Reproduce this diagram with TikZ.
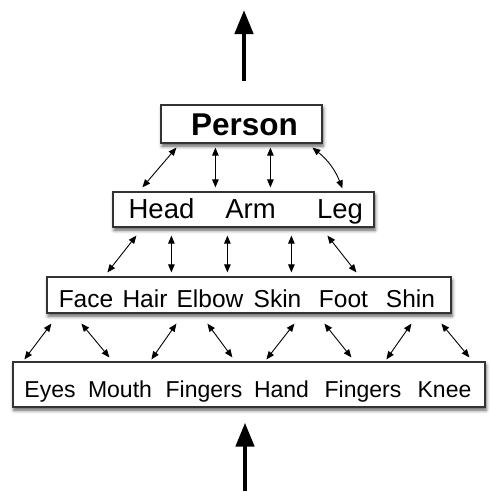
\documentclass[tikz,border=0pt]{standalone}
\usepackage{fontspec}
\setmainfont{Liberation Sans}
\usetikzlibrary{arrows.meta,shadows.blur,calc}

\begin{document}
\begin{tikzpicture}[x=1pt,y=-1pt,
    box/.style={draw=black!80,line width=1.2pt,fill=white,inner sep=0,
      blur shadow={shadow xshift=1pt,shadow yshift=-3pt,shadow blur radius=3.5pt,shadow opacity=65}},
    word/.style={inner sep=0,anchor=base},
    link/.style={{Triangle[length=8pt,width=6.5pt]}-{Triangle[length=8pt,width=6.5pt]},line width=0.9pt},
    bigarrow/.style={-{Triangle[length=24pt,width=18pt]},line width=4.5pt}]
  \useasboundingbox (0,0) rectangle (492,491);
  % Boxes
  \node[box,minimum width=161pt,minimum height=38pt] (person) at (241.5,124) {};
  \node[box,minimum width=261pt,minimum height=35pt] (head) at (243.5,209.5) {};
  \node[box,minimum width=404pt,minimum height=36pt] (face) at (249,295) {};
  \node[box,minimum width=472pt,minimum height=45pt] (eyes) at (249,384.5) {};
  % Words
  \node[word,font=\fontsize{31.5}{36}\selectfont\bfseries] (tPerson) at (244.5,135) {Person};
  \node[word,font=\fontsize{27.5}{32}\selectfont] (tHead) at (161.5,218) {Head};
  \node[word,font=\fontsize{27.5}{32}\selectfont] (tArm) at (250.5,218) {Arm};
  \node[word,font=\fontsize{27.5}{32}\selectfont] (tLeg) at (340,218) {Leg};
  \node[word,font=\fontsize{24.5}{28}\selectfont] (tFace) at (86,307) {Face};
  \node[word,font=\fontsize{24.5}{28}\selectfont] (tHair) at (145,307) {Hair};
  \node[word,font=\fontsize{24.5}{28}\selectfont] (tElbow) at (210,307) {Elbow};
  \node[word,font=\fontsize{24.5}{28}\selectfont] (tSkin) at (277.5,307) {Skin};
  \node[word,font=\fontsize{24.5}{28}\selectfont] (tFoot) at (343.5,307) {Foot};
  \node[word,font=\fontsize{24.5}{28}\selectfont] (tShin) at (410.5,307) {Shin};
  \node[word,font=\fontsize{23}{27}\selectfont] (tEyes) at (50,397) {Eyes};
  \node[word,font=\fontsize{23}{27}\selectfont] (tMouth) at (120,397) {Mouth};
  \node[word,font=\fontsize{23}{27}\selectfont] (tFingersA) at (204,397) {Fingers};
  \node[word,font=\fontsize{23}{27}\selectfont] (tHand) at (281.5,397) {Hand};
  \node[word,font=\fontsize{23}{27}\selectfont] (tFingersB) at (363,397) {Fingers};
  \node[word,font=\fontsize{23}{27}\selectfont] (tKnee) at (444.5,397) {Knee};
  % Big arrows
  \coordinate (top) at (244,10);
  \coordinate (bottom) at (245,491);
  \draw[bigarrow] ([xshift=2.5pt,yshift=23pt]person.north) -- (top);
  \draw[bigarrow] (bottom) -- ([xshift=-4pt,yshift=-15pt]eyes.south);
  % Person - Head
  \draw[link] ($(person.south west)+(16,4)$) -- ($(head.north west)+(30,-4)$);
  \draw[link] ($(person.south west)+(55,4)$) -- ($(head.north west)+(103,-4)$);
  \draw[link] ($(person.south west)+(110,4)$) -- ($(head.north west)+(158,-4)$);
  \draw[link] ($(person.south west)+(152,4)$) to[bend left=15] ($(head.north west)+(230,-3)$);
  % Head - Face
  \draw[link] ($(head.south west)+(24,8)$) -- ($(face.north west)+(61,-4)$);
  \draw[link] ($(head.south west)+(59,8)$) -- ($(face.north west)+(125,-4)$);
  \draw[link] ($(head.south west)+(115,8)$) -- ($(face.north west)+(181,-4)$);
  \draw[link] ($(head.south west)+(179,8)$) -- ($(face.north west)+(245,-4)$);
  \draw[link] ($(head.south west)+(215,8)$) -- ($(face.north west)+(310,-4)$);
  % Face - Eyes
  \draw[link] ($(face.south west)+(5,10)$) -- ($(eyes.north west)+(12,-2)$);
  \draw[link] ($(face.south west)+(35,10)$) -- ($(eyes.north west)+(97,-4)$);
  \draw[link] ($(face.south west)+(130,10)$) -- ($(eyes.north west)+(139,-2)$);
  \draw[link] ($(face.south west)+(161,10)$) -- ($(eyes.north west)+(220,-4)$);
  \draw[link] ($(face.south west)+(248,10)$) -- ($(eyes.north west)+(254,-2)$);
  \draw[link] ($(face.south west)+(278,10)$) -- ($(eyes.north west)+(339,-4)$);
  \draw[link] ($(face.south west)+(365,10)$) -- ($(eyes.north west)+(374,-2)$);
  \draw[link] ($(face.south west)+(395,10)$) -- ($(eyes.north west)+(457,-4)$);
\end{tikzpicture}
\end{document}
